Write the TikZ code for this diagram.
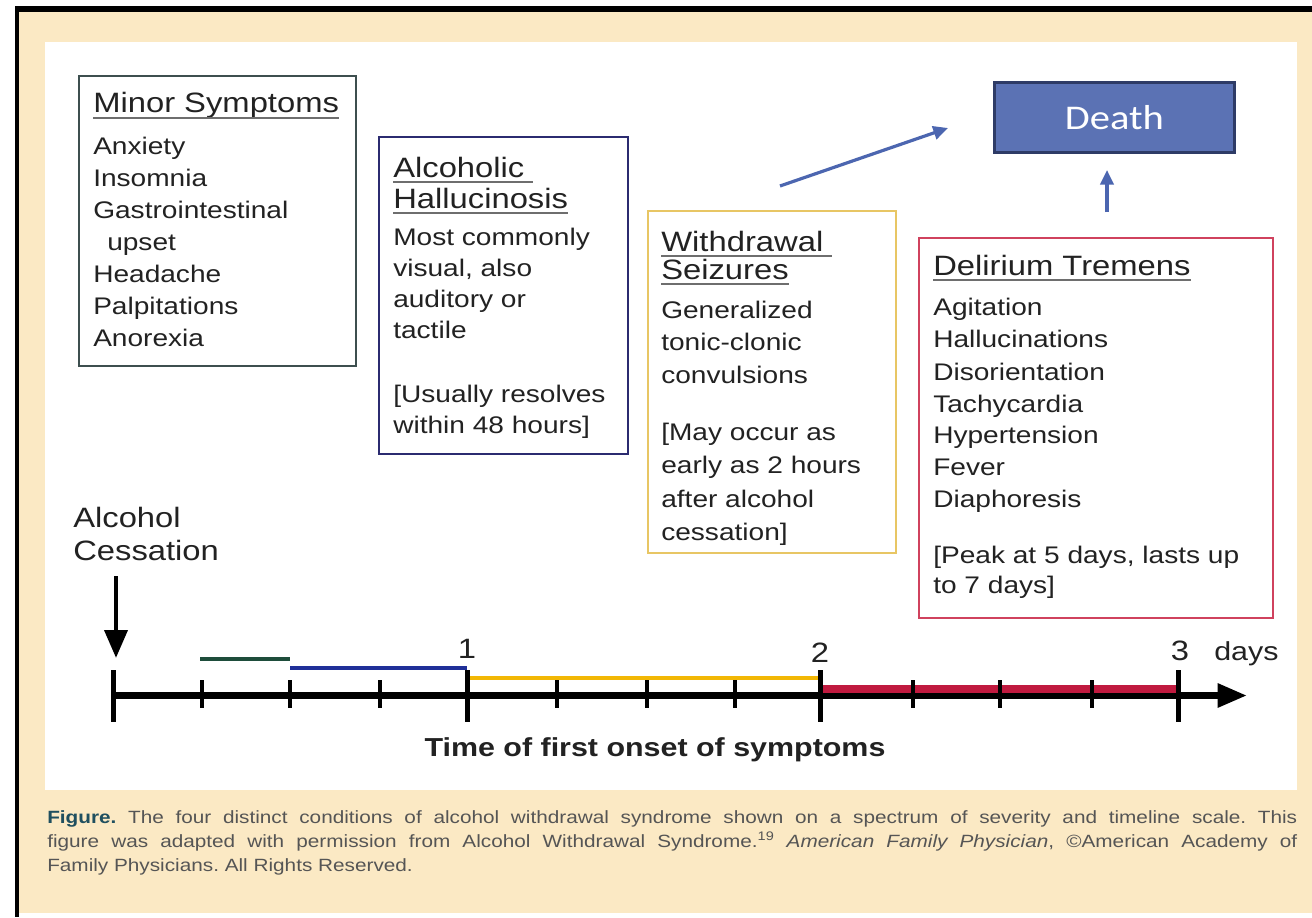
\documentclass[tikz,border=0pt]{standalone}
\usepackage{fontspec}
\setmainfont{Liberation Sans}[FakeStretch=1.17]
\newfontfamily\deathfont{Carlito}[FakeStretch=1.17]
\usetikzlibrary{arrows.meta,calc}
\definecolor{cream}{RGB}{251,233,196}
\definecolor{txt}{RGB}{34,34,34}
\definecolor{ulgray}{RGB}{110,110,110}
\definecolor{minorc}{RGB}{61,79,79}
\definecolor{halluc}{RGB}{43,43,112}
\definecolor{seizc}{RGB}{232,198,100}
\definecolor{delirc}{RGB}{208,66,94}
\definecolor{deathfill}{RGB}{91,114,180}
\definecolor{deathline}{RGB}{46,59,102}
\definecolor{arrowc}{RGB}{76,102,176}
\definecolor{barg}{RGB}{30,77,59}
\definecolor{barb}{RGB}{31,47,152}
\definecolor{bary}{RGB}{242,183,5}
\definecolor{barr}{RGB}{192,26,63}
\definecolor{capc}{RGB}{85,85,85}
\definecolor{figc}{RGB}{31,79,95}
\tikzset{
  body/.style={anchor=base west, inner sep=0pt, text=txt, font=\fontsize{18}{22}\selectfont},
  ttl/.style={anchor=base west, inner sep=0pt, text=txt, font=\fontsize{21}{25}\selectfont},
  uline/.style={draw=ulgray, line width=1.4pt},
  panel/.style={anchor=north west, fill=white, line width=1.5pt, inner sep=0pt},
  majtick/.style={line width=3.75pt},
  mintick/.style={line width=3.3pt},
  bar/.style={line width=3pt},
  bluearrow/.style={draw=arrowc, line width=2.4pt, -{Triangle[length=11pt,width=10pt]}},
  captxt/.style={anchor=base west, inner sep=0pt, text=capc, font=\frenchspacing\fontsize{13.3}{15}\selectfont},
  tl/.style={anchor=base, inner sep=0pt, text=txt, font=\fontsize{21}{24}\selectfont},
}
\begin{document}
\begin{tikzpicture}[x=0.75pt,y=-0.75pt]
\useasboundingbox (0,0) rectangle (1312,917);
% frame and backgrounds
\fill[white] (0,0) rectangle (1312,917);
\fill[black] (15,6) rectangle (1312,917);
\fill[cream] (19,12) rectangle (1312,913);
\fill[white] (19,913) rectangle (1312,917);
\fill[white] (45,42) rectangle (1297,790);

% Minor Symptoms
\node[panel, draw=minorc, minimum width=207.75pt, minimum height=217.5pt] (minorbox) at (78,75) {};
\node[ttl] (mst) at (93,113) {Minor Symptoms};
\draw[uline] ($(mst.base west)+(0,5)$) -- ($(mst.base east)+(0,5)$);
\foreach \t [count=\i from 0] in {Anxiety,Insomnia,Gastrointestinal,{\hspace*{10.5pt}upset},Headache,Palpitations,Anorexia}
  \node[body] (ms\i) at (93,154+32*\i) {\t};

% Alcoholic Hallucinosis
\node[panel, draw=halluc, minimum width=186.75pt, minimum height=237.75pt] (hallbox) at (378,136) {};
\node[ttl] (aht1) at (393,177) {Alcoholic\vphantom{g}};
\node[ttl] (aht2) at (393,208) {Hallucinosis};
\draw[uline] ($(aht1.base west)+(0,5)$) -- ($(aht1.base east)+(8,5)$);
\draw[uline] ($(aht2.base west)+(0,5)$) -- ($(aht2.base east)+(0,5)$);
\foreach \t/\y [count=\i] in {Most commonly/245,{visual, also}/276,auditory or/307,tactile/338,[Usually resolves/402,within 48 hours]/433}
  \node[body] (ah\i) at (393,\y) {\t};

% Withdrawal Seizures
\node[panel, draw=seizc, minimum width=186pt, minimum height=256.5pt] (seizbox) at (647,210) {};
\node[ttl] (wst1) at (661,251) {Withdrawal};
\node[ttl] (wst2) at (661,279) {Seizures};
\draw[uline] ($(wst1.base west)+(0,5)$) -- ($(wst1.base east)+(8,5)$);
\draw[uline] ($(wst2.base west)+(0,5)$) -- ($(wst2.base east)+(0,5)$);
\foreach \t/\y [count=\i] in {Generalized/318,tonic-clonic/350,convulsions/383,[May occur as/440,early as 2 hours/473,after alcohol/507,cessation]/540}
  \node[body] (ws\i) at (661,\y) {\t};

% Delirium Tremens
\node[panel, draw=delirc, minimum width=265.5pt, minimum height=285pt] (delbox) at (918,237) {};
\node[ttl] (dtt) at (933,275) {Delirium Tremens};
\draw[uline] ($(dtt.base west)+(0,5)$) -- ($(dtt.base east)+(0,5)$);
\foreach \t/\y [count=\i] in {Agitation/315,Hallucinations/347,Disorientation/380,Tachycardia/412,Hypertension/443,Fever/475,Diaphoresis/507,{[Peak at 5 days, lasts up}/563,to 7 days]/593}
  \node[body] (dt\i) at (933,\y) {\t};

% Death
\node[anchor=north west, fill=deathfill, draw=deathline, line width=2.2pt, minimum width=180pt, minimum height=52.5pt, inner sep=0pt, text=white, font=\deathfont\fontsize{26}{30}\selectfont] (death) at (993,81) {Death};
\coordinate (diagstart) at (780,186);
\coordinate (diagend) at (948,128);
\draw[bluearrow] (diagstart) -- (diagend);
\coordinate (vertstart) at (1107,212);
\coordinate (vertend) at (1107,170);
\draw[bluearrow] (vertstart) -- (vertend);

% Alcohol cessation
\node[anchor=base west, inner sep=0pt, text=txt, font=\fontsize{21}{24}\selectfont] (alc1) at (73,527) {Alcohol};
\node[anchor=base west, inner sep=0pt, text=txt, font=\fontsize{21}{24}\selectfont] (alc2) at (73,560) {Cessation};
\coordinate (cesstop) at (116,576);
\coordinate (cesstip) at (116,658);
\draw[line width=3.6pt, -{Triangle[length=21pt,width=17pt]}] (cesstop) -- (cesstip);

% timeline bars
\draw[bar, barg] (200,659) -- (290,659);
\draw[bar, barb] (290,668) -- (467,668);
\draw[bar, bary] (467,678) -- (820,678);

% axis
\coordinate (axstart) at (113,695.5);
\coordinate (axend) at (1247,695.5);
\draw[line width=5pt, -{Triangle[length=22pt,width=17pt]}] (axstart) -- (axend);
\draw[line width=6pt, barr] (820,689) -- (1178,689);
\foreach \x in {113,467,820,1178} \draw[majtick] (\x,670) -- (\x,722);
\foreach \x in {202,290,380,557,647,735,913,1000,1092} \draw[mintick] (\x,680) -- (\x,708);

% labels
\node[tl] (d1) at (467,658) {1};
\node[tl] (d2) at (820,662) {2};
\node[tl] (d3) at (1180,660) {3};
\node[tl, anchor=base west, font=\fontsize{19.5}{23}\selectfont] (days) at (1214,660) {days};
\node[anchor=base, inner sep=0pt, text=txt, font=\bfseries\fontsize{19.5}{23}\selectfont] (tfo) at (655,756) {Time of first onset of symptoms};

% caption
\node[captxt] (cap1) at (47,823) {\makebox[937.5pt][s]{\textcolor{figc}{\textbf{Figure.}} The four distinct conditions of alcohol withdrawal syndrome shown on a spectrum of severity and timeline scale. This}};
\node[captxt] (cap2) at (47,847) {\makebox[937.5pt][s]{figure was adapted with permission from Alcohol Withdrawal Syndrome.\textsuperscript{19} \textit{American Family Physician}, ©American Academy of}};
\node[captxt] (cap3) at (47,871) {Family Physicians. All Rights Reserved.};
\end{tikzpicture}
\end{document}
